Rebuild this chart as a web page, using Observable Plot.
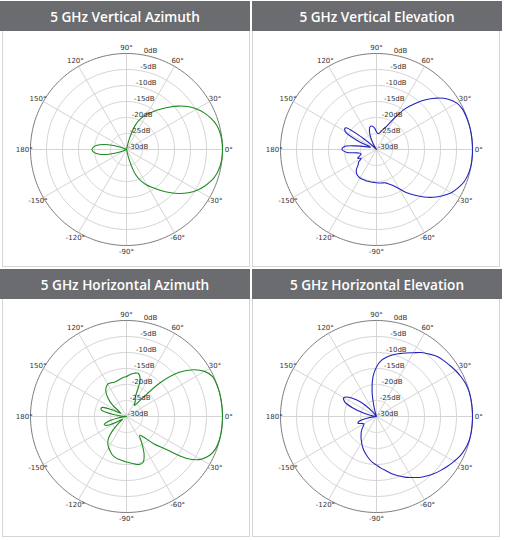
<!DOCTYPE html>
<html>
<head>
<meta charset="utf-8">
<script src="https://cdn.jsdelivr.net/npm/d3@7"></script>
<script src="https://cdn.jsdelivr.net/npm/@observablehq/plot@0.6"></script>
<style>
  html, body { margin: 0; padding: 0; background: #fff; }
  #page { position: relative; width: 505px; height: 540px; overflow: hidden; }
  .panel { position: absolute; width: 250px; }
  .head {
    height: 30px; background: #6b6c6f; color: #fff;
    font: 600 13.6px/32px "Open Sans", sans-serif;
    text-align: center; white-space: nowrap; overflow: hidden;
  }
  .body { width: 246px; border: 1px solid #d6d6d6; border-top: none; background: #fff; }
  .body svg { display: block; }
</style>
</head>
<body>
<div id="page"></div>
<script>
// Antenna radiation patterns, 5 GHz band: gain in dB sampled every 5° from -180° to 175°
const angles = d3.range(-180, 180, 5);

const vertAzimuth = [
  -19.2, -19.8, -21.5, -24.2, -27.5, -30,
  -30, -30, -30, -30, -30, -30, -30, -30, -30, -30, -30, -30, -30, -30, -30,
  -26.5, -21.6, -19.1, -17.1, -15.4, -13.3, -11.0, -8.6, -6.4, -4.5, -3.0, -1.7, -0.8, -0.3, -0.05,
  0,
  -0.05, -0.3, -0.8, -1.8, -3.1, -4.7, -6.6, -8.9, -11.3, -13.6, -15.6, -17.3, -19.3, -21.8, -26.5,
  -30, -30, -30, -30, -30, -30, -30, -30, -30, -30, -30, -30, -30, -30, -30,
  -30, -27.5, -24.2, -21.5, -19.8
];

const vertElevation = [
  -19.2, -20.5, -24, -25, -24.5, -23.5, -24.5, -23.2, -22.5, -21.1, -20.3, -19.9,
  -19.7, -19.7, -19.7, -19.7, -19.7, -19.7, -19.6, -19.5, -19.4, -19.2, -18.5, -17.5,
  -15.8, -13.5, -11.3, -9.0, -6.8, -4.8, -3.0, -1.8, -0.8, -0.3, -0.05, 0,
  0, 0, 0, -0.05, -0.15, -0.3, -1.0, -2.6, -5.0, -7.9, -11.2, -14.5,
  -18.5, -21.5, -23, -24, -24.8, -25, -24.5, -23.3, -22.6, -22.5, -23.5, -25.5,
  -28, -30, -30, -29, -24.5, -18.2, -18.7, -23.5, -28, -26.5, -23.5, -19.8
];

const horizAzimuth = [
  -30, -29.5, -27, -24, -22.6, -23.5, -26.5, -28.5, -27, -24, -21.3, -19.8,
  -18.8, -18, -17.2, -16.7, -16.4, -16.1, -15.8, -15.4, -14.9, -14.5, -14.8, -17,
  -20.5, -22.8, -21.5, -18, -14.2, -7.3, -3.2, -1.3, -0.4, -0.1, 0, 0,
  0, 0, 0, 0, -0.1, -0.4, -1.8, -4.5, -8.5, -15, -23.5, -25.8,
  -24.5, -23.5, -17.5, -16, -16.3, -16.8, -17.5, -17.8, -18.2, -18.5, -18.6, -18.4,
  -18.3, -18.9, -20, -21.8, -24, -27, -28, -25, -21.8, -21.8, -25, -29
];

const horizElevation = [
  -30, -29.5, -27, -24.5, -23.8, -24.8, -25.5, -25, -24.2, -23.3, -22.5, -21.6,
  -20.7, -19.6, -18.6, -17.6, -16.6, -15.6, -14.8, -13.8, -12.8, -11.5, -10.3, -9.1,
  -8, -6.75, -5.7, -4.7, -3.8, -2.9, -2, -1.1, -0.5, -0.1, 0, 0,
  0, 0, 0, -0.05, -0.3, -0.8, -1.4, -2.1, -2.7, -3.4, -4.5, -5.6,
  -7, -8.1, -9.1, -10, -11.1, -12.4, -14.5, -17.5, -22, -27.5, -30, -30,
  -30, -30, -28, -25, -22, -19.5, -18.2, -19, -22, -26, -29, -30
];

// Axis ticks
const dbTicks = [0, -5, -10, -15, -20, -25, -30];
const dbLabels = ["0dB", "-5dB", "-10dB", "-15dB", "-20dB", "-25dB", "-30dB"];
const spokeAngles = [0, 30, 60, 90, 120, 150, 180, -150, -120, -90, -60, -30];
const spokeLabels = ["0°", "30°", "60°", "90°", "120°", "150°", "180°", "-150°", "-120°", "-90°", "-60°", "-30°"];

const panels = [
  {title: "5 GHz Vertical Azimuth",     gain: vertAzimuth,    color: "#1f8a1f", left: 0,   top: 1,   h: 235, cy: 118, inset: 2},
  {title: "5 GHz Vertical Elevation",   gain: vertElevation,  color: "#2323bd", left: 252, top: 1,   h: 235, cy: 118, inset: 0},
  {title: "5 GHz Horizontal Azimuth",   gain: horizAzimuth,   color: "#1f8a1f", left: 0,   top: 269, h: 237, cy: 117, inset: 2},
  {title: "5 GHz Horizontal Elevation", gain: horizElevation, color: "#2323bd", left: 252, top: 269, h: 237, cy: 117, inset: 0}
];

const dbMin = -30, dbMax = 0;
const rad = g => Math.max(0, (g - dbMin) / (dbMax - dbMin));
const toRad = a => a * Math.PI / 180;
const font = "DejaVu Sans";

function polarChart({gain, color, h, cy}) {
  const W = 246, cx = 123, R = 96;
  const pattern = angles.map((a, i) => ({a, g: gain[i]}));
  const rings = dbTicks.filter(d => d > dbMin && d < dbMax)
    .flatMap(d => d3.range(0, 360, 2).map(t => ({d, t})));
  const outer = d3.range(0, 360, 2).map(t => ({d: dbMax, t}));
  const px = d => rad(d.d) * Math.cos(toRad(d.t));
  const py = d => rad(d.d) * Math.sin(toRad(d.t));
  return Plot.plot({
    width: W, height: h,
    marginLeft: cx - R, marginRight: W - cx - R,
    marginTop: cy - R, marginBottom: h - cy - R,
    x: {domain: [-1, 1], axis: null},
    y: {domain: [-1, 1], axis: null},
    style: {background: "#fff", overflow: "visible"},
    marks: [
      Plot.line(rings, {x: px, y: py, z: "d", stroke: "#d4d4d4", strokeWidth: 1, curve: "linear-closed"}),
      Plot.link(spokeAngles, {
        x1: () => 0, y1: () => 0,
        x2: a => Math.cos(toRad(a)), y2: a => Math.sin(toRad(a)),
        stroke: "#d4d4d4", strokeWidth: 1
      }),
      Plot.line(outer, {x: px, y: py, stroke: "#7c7c7c", strokeWidth: 1, curve: "linear-closed"}),
      Plot.line(pattern, {
        x: d => rad(d.g) * Math.cos(toRad(d.a)),
        y: d => rad(d.g) * Math.sin(toRad(d.a)),
        stroke: color, strokeWidth: 1.1, curve: "catmull-rom-closed"
      }),
      Plot.text(spokeAngles, {
        x: a => 1.065 * Math.cos(toRad(a)),
        y: a => 1.065 * Math.sin(toRad(a)),
        text: (a, i) => spokeLabels[i],
        fontSize: 7, fontFamily: font, fill: "#333"
      }),
      Plot.text(dbTicks, {
        x: d => 0.12 + 0.13 * rad(d),
        y: d => rad(d) + 0.025,
        text: (d, i) => dbLabels[i],
        fontSize: 7, fontFamily: font, fill: "#333"
      })
    ]
  });
}

const page = document.getElementById("page");
for (const p of panels) {
  const div = document.createElement("div");
  div.className = "panel";
  div.style.left = p.left + "px";
  div.style.top = p.top + "px";
  const head = document.createElement("div");
  head.className = "head";
  head.textContent = p.title;
  const body = document.createElement("div");
  body.className = "body";
  body.style.marginLeft = p.inset + "px";
  body.appendChild(polarChart(p));
  div.appendChild(head);
  div.appendChild(body);
  page.appendChild(div);
}
</script>
</body>
</html>
